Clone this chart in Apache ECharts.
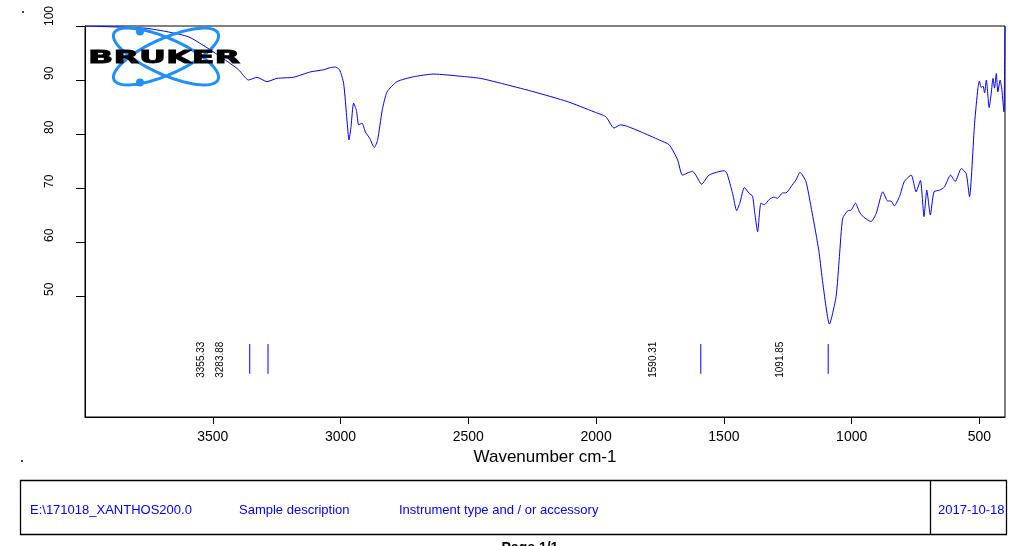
<!DOCTYPE html>
<html><head><meta charset="utf-8">
<script src="https://cdn.jsdelivr.net/npm/echarts@6/dist/echarts.min.js"></script>
<style>html,body{margin:0;padding:0;background:#fff}#c{width:1028px;height:546px}</style>
</head><body><div id="c"></div>
<script>
const wavenumbers = [4000, 3765, 3674, 3595, 3530, 3451, 3399, 3360, 3327, 3288, 3249, 3185, 3118, 3066, 3040, 3020, 3004, 2988, 2975, 2967, 2959, 2949, 2938, 2929, 2916, 2903, 2886, 2868, 2855, 2837, 2818, 2779, 2714, 2635, 2531, 2452, 2348, 2243, 2112, 2008, 1962, 1930, 1904, 1877, 1825, 1753, 1714, 1681, 1662, 1623, 1610, 1587, 1558, 1499, 1488, 1466, 1450, 1437, 1420, 1401, 1388, 1379, 1368, 1355, 1342, 1322, 1305, 1290, 1270, 1257, 1238, 1218, 1202, 1179, 1159, 1140, 1127, 1113, 1087, 1061, 1048, 1035, 1015, 1002, 985, 970, 953, 924, 904, 878, 859, 846, 833, 813, 794, 767, 748, 731, 717, 706, 692, 678, 656, 637, 613, 595, 571, 552, 539, 519, 506, 500, 493, 486, 480, 473, 462, 454, 447, 441, 434, 428, 419, 412, 404, 402, 400];
const transmittance = [100.0, 99.6, 98.9, 98.0, 96.2, 93.7, 91.9, 90.0, 90.5, 89.7, 90.3, 90.5, 91.5, 91.9, 92.3, 92.4, 91.9, 89.4, 82.6, 78.9, 81.4, 85.7, 84.4, 81.7, 82.0, 80.4, 79.2, 77.5, 78.9, 84.4, 87.8, 89.7, 90.6, 91.1, 90.7, 90.3, 89.1, 87.8, 86.0, 84.1, 83.2, 81.1, 81.7, 81.4, 80.4, 78.9, 78.0, 75.2, 72.4, 73.1, 72.4, 70.7, 72.4, 73.2, 72.7, 69.0, 65.8, 67.3, 70.1, 69.0, 68.5, 65.3, 61.9, 67.2, 66.9, 67.9, 68.3, 68.1, 69.1, 69.1, 70.2, 71.5, 72.9, 71.2, 66.5, 61.6, 57.9, 52.4, 44.8, 49.9, 57.3, 64.4, 65.8, 65.9, 67.2, 65.6, 64.6, 63.8, 65.3, 69.3, 67.6, 67.6, 66.7, 68.4, 71.2, 72.4, 69.3, 71.4, 64.7, 69.6, 65.0, 69.3, 69.6, 70.2, 72.4, 71.2, 73.6, 72.7, 68.4, 82.0, 88.5, 89.8, 88.6, 88.9, 87.6, 90.0, 84.9, 87.5, 90.3, 88.5, 91.2, 87.8, 90.0, 88.1, 84.1, 90.6, 99.9];
const xTickValues = [500, 1000, 1500, 2000, 2500, 3000, 3500];
const yTickValues = [50, 60, 70, 80, 90, 100];
const peakPositions = [3355.33, 3283.88, 1590.31, 1091.85];
const peakLabels = ['3355.33', '3283.88', '1590.31', '1091.85'];
const footerTexts = ['E:\\171018_XANTHOS200.0', 'Sample description', 'Instrument type and / or accessory', '2017-10-18'];
const pageText = 'Page 1/1';
const xAxisTitle = 'Wavenumber cm-1';

const peakLineTop = 41.1, peakLineBottom = 35.6;
const FONT = 'Liberation Sans, Arial, sans-serif';

function ellipsePoints(cx, cy, a, b, angDeg) {
  const pts = [], t = angDeg * Math.PI / 180;
  for (let i = 0; i <= 90; i++) {
    const u = i / 90 * 2 * Math.PI;
    const x = a * Math.cos(u), y = b * Math.sin(u);
    pts.push([cx + x * Math.cos(t) - y * Math.sin(t), cy + x * Math.sin(t) + y * Math.cos(t)]);
  }
  return pts;
}
const logoBlue = '#1e8fff';
const footerX = [30, 239, 399, 938];

const chart = echarts.init(document.getElementById('c'), null, {renderer: 'canvas'});
const option = {
  animation: false,
  backgroundColor: '#fff',
  grid: {left: 85, right: 23, top: 26, bottom: 129, show: true, borderColor: '#000', borderWidth: 1},
  xAxis: {
    type: 'value', min: 400, max: 4000, inverse: true,
    name: xAxisTitle, nameLocation: 'middle', nameGap: 30,
    nameTextStyle: {fontSize: 17, fontFamily: FONT, color: '#000'},
    axisLine: {show: true, lineStyle: {color: '#000', width: 1}},
    axisTick: {show: true, length: 7, customValues: xTickValues, lineStyle: {color: '#000'}},
    axisLabel: {customValues: xTickValues, formatter: v => String(v), fontSize: 14, margin: 13, color: '#000', fontFamily: FONT},
    splitLine: {show: false}
  },
  yAxis: {
    type: 'value', min: 27.6, max: 100,
    axisLine: {show: true, lineStyle: {color: '#000', width: 1}},
    axisTick: {show: true, length: 9, customValues: yTickValues, lineStyle: {color: '#000'}},
    axisLabel: {customValues: yTickValues, formatter: v => String(v), rotate: 90, align: 'left', verticalAlign: 'bottom', margin: 29, fontSize: 12, color: '#000', fontFamily: FONT},
    splitLine: {show: false}
  },
  series: [
    {
      type: 'line', data: wavenumbers.map((w, i) => [w, transmittance[i]]),
      showSymbol: false, smooth: 0.2, lineStyle: {color: '#0000ff', width: 1}, z: 3
    },
    {
      type: 'custom', encode: {x: 0, y: 1},
      data: peakPositions.map(p => [p, peakLineTop]),
      renderItem: function (params, api) {
        const wn = api.value(0);
        const top = api.coord([wn, peakLineTop]);
        const bot = api.coord([wn, peakLineBottom]);
        return {
          type: 'group', children: [
            {type: 'line', shape: {x1: top[0], y1: top[1], x2: bot[0], y2: bot[1]}, style: {stroke: '#0000ff', lineWidth: 1}},
            {type: 'text', x: top[0] - 48, y: bot[1] + 4, rotation: Math.PI / 2,
              style: {text: peakLabels[params.dataIndex], fontSize: 10, fontFamily: FONT, fill: '#000', align: 'left', verticalAlign: 'middle'}}
          ]
        };
      }
    }
  ],
  graphic: [
    {type: 'polyline', shape: {points: ellipsePoints(166, 56.5, 57, 18, 24)}, style: {stroke: logoBlue, lineWidth: 3, fill: null}, z: 10},
    {type: 'polyline', shape: {points: ellipsePoints(166, 56.5, 57, 18, -24)}, style: {stroke: logoBlue, lineWidth: 3, fill: null}, z: 10},
    {type: 'circle', shape: {cx: 140, cy: 31.5, r: 4}, style: {fill: logoBlue}, z: 10},
    {type: 'circle', shape: {cx: 140, cy: 82.5, r: 4}, style: {fill: logoBlue}, z: 10},
    {type: 'text', x: 88, y: 58, scaleX: 1.85, style: {text: 'BRUKER', font: 'bold 18px "DejaVu Sans"', fill: '#000', stroke: '#000', lineWidth: 0.8, verticalAlign: 'middle', align: 'left'}, z: 11},
    {type: 'rect', shape: {x: 22, y: 11, width: 2, height: 2}, style: {fill: '#444'}},
    {type: 'rect', shape: {x: 21, y: 460, width: 2, height: 2}, style: {fill: '#444'}},
    {type: 'rect', shape: {x: 20.5, y: 480.5, width: 986, height: 54}, style: {fill: null, stroke: '#000', lineWidth: 1.3}},
    {type: 'line', shape: {x1: 930.5, y1: 480.5, x2: 930.5, y2: 534.5}, style: {stroke: '#000', lineWidth: 1.3}}
  ].concat(footerTexts.map((t, i) => ({
    type: 'text', x: footerX[i], y: 510,
    style: {text: t, fontSize: 13, fontFamily: FONT, fill: '#0000ff', verticalAlign: 'middle', align: 'left'}
  }))).concat([
    {type: 'text', x: 530, y: 541, style: {text: pageText, font: 'bold 14px ' + FONT, fill: '#000', align: 'center', verticalAlign: 'top'}}
  ])
};
chart.setOption(option);
</script>
</body></html>
